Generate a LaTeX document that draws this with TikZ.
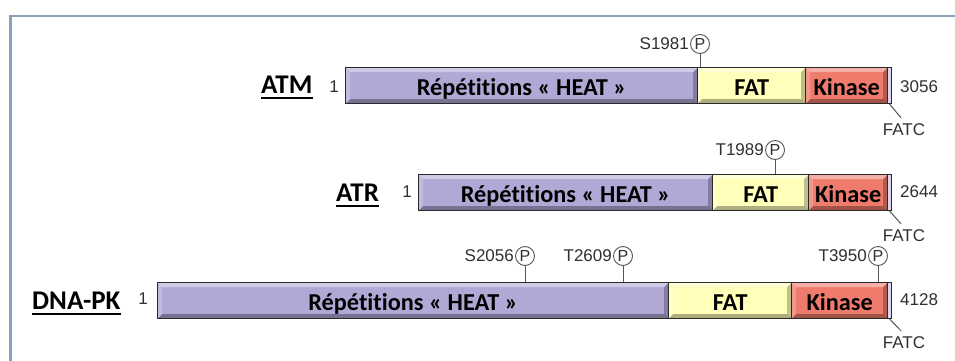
\documentclass[tikz,border=0pt]{standalone}
\usepackage{fontspec}
\setmainfont{Carlito}[Ligatures={NoCommon}]
\newfontfamily\arialf{Liberation Sans}
\usetikzlibrary{calc}
\definecolor{heatc}{HTML}{B2A8D6}
\definecolor{fatc}{HTML}{FFFFB9}
\definecolor{kinc}{HTML}{EE7B6B}
\definecolor{fatcc}{HTML}{DCD4F0}
\definecolor{segline}{HTML}{2A2A2A}
\definecolor{framec}{HTML}{8C9FBD}
\definecolor{stemc}{HTML}{555555}
\definecolor{smalltxt}{HTML}{303030}
\tikzset{
  bevel/.style={path picture={
    \fill[white,opacity=.40] (path picture bounding box.north west) -- (path picture bounding box.north east)
      -- ($(path picture bounding box.north east)+(-4.5pt,-4.5pt)$) -- ($(path picture bounding box.north west)+(4.5pt,-4.5pt)$) -- cycle;
    \fill[white,opacity=.22] (path picture bounding box.north west) -- ($(path picture bounding box.north west)+(4.5pt,-4.5pt)$)
      -- ($(path picture bounding box.south west)+(4.5pt,4.5pt)$) -- (path picture bounding box.south west) -- cycle;
    \fill[black,opacity=.32] (path picture bounding box.south west) -- ($(path picture bounding box.south west)+(4.5pt,4.5pt)$)
      -- ($(path picture bounding box.south east)+(-4.5pt,4.5pt)$) -- (path picture bounding box.south east) -- cycle;
    \fill[black,opacity=.25] (path picture bounding box.north east) -- ($(path picture bounding box.north east)+(-4.5pt,-4.5pt)$)
      -- ($(path picture bounding box.south east)+(-4.5pt,4.5pt)$) -- (path picture bounding box.south east) -- cycle;
  }},
  seg/.style={draw=segline, line width=1.4pt, anchor=north west, minimum height=36pt, inner sep=0pt,
    text height=20pt, text depth=0pt,
    font=\bfseries\fontsize{24.3}{24.3}\selectfont, bevel},
  heatseg/.style={seg, fill=heatc},
  fatseg/.style={seg, fill=fatc},
  kinseg/.style={seg, fill=kinc},
  fatcseg/.style={draw=segline, line width=1pt, anchor=north west, minimum height=36pt, minimum width=4pt, inner sep=0pt, fill=fatcc},
  protlbl/.style={inner sep=0pt, font=\bfseries\fontsize{27}{27}\selectfont},
  small/.style={inner sep=0pt, text=smalltxt, font=\arialf\fontsize{17}{17}\selectfont},
  phos/.style={circle, draw=stemc, line width=0.9pt, minimum size=19pt, inner sep=0pt, text=smalltxt, font=\arialf\fontsize{16}{16}\selectfont},
  stem/.style={draw=stemc, line width=1pt},
  uline/.style={line width=2.2pt},
}
\begin{document}
\begin{tikzpicture}[x=1pt,y=-1pt]
\useasboundingbox (0,0) rectangle (955,361);
\fill[white] (0,0) rectangle (955,361);
\draw[framec, line width=2.3pt] (10.5,361) -- (10.5,16) -- (955,16);

% ---------- ATM ----------
\node[protlbl, anchor=base west] (atml) at (261,93.5) {ATM};
\draw[uline] ($(atml.base west)+(0,4.2)$) -- ($(atml.base east)+(0,4.2)$);
\node[small] (atm1) at (334,87) {1};
\node[heatseg, minimum width=352pt] (atmheat) at (345,67) {Répétitions « HEAT »};
\node[fatseg, minimum width=108pt] (atmfat) at (697,67) {FAT};
\node[kinseg, minimum width=82pt] (atmkin) at (805,67) {Kinase};
\node[fatcseg] (atmfatc) at (887,67) {};
\node[small, anchor=west] (atmlen) at (900,87) {3056};
\node[small] (atmfatcl) at (904,130) {FATC};
\draw[stem] (atmfatc.south) -- ($(atmfatcl.north)+(-3,-6)$);
\node[phos] (atmp1) at (700,44) {P};
\node[small, anchor=east, inner sep=1pt] (atmp1l) at (atmp1.west) {S1981};
\draw[stem] (atmp1.south) -- (atmp1 |- atmfat.north);

% ---------- ATR ----------
\node[protlbl, anchor=base west] (atrl) at (336,201.5) {ATR};
\draw[uline] ($(atrl.base west)+(0,4.2)$) -- ($(atrl.base east)+(0,4.2)$);
\node[small] (atr1) at (407,192) {1};
\node[heatseg, minimum width=294pt] (atrheat) at (418,174) {Répétitions « HEAT »};
\node[fatseg, minimum width=96pt] (atrfat) at (712,174) {FAT};
\node[kinseg, minimum width=79pt] (atrkin) at (808,174) {Kinase};
\node[fatcseg] (atrfatc) at (887,174) {};
\node[small, anchor=west] (atrlen) at (900,192) {2644};
\node[small] (atrfatcl) at (904,236) {FATC};
\draw[stem] (atrfatc.south) -- ($(atrfatcl.north)+(-3,-6)$);
\node[phos] (atrp1) at (775,150) {P};
\node[small, anchor=east, inner sep=1pt] (atrp1l) at (atrp1.west) {T1989};
\draw[stem] (atrp1.south) -- (atrp1 |- atrfat.north);

% ---------- DNA-PK ----------
\node[protlbl, anchor=base west] (dnal) at (32,309.5) {DNA-PK};
\draw[uline] ($(dnal.base west)+(0,4.2)$) -- ($(dnal.base east)+(0,4.2)$);
\node[small] (dna1) at (143,299) {1};
\node[heatseg, minimum width=511pt] (dnaheat) at (157,282) {Répétitions « HEAT »};
\node[fatseg, minimum width=123pt] (dnafat) at (668,282) {FAT};
\node[kinseg, minimum width=96pt] (dnakin) at (791,282) {Kinase};
\node[fatcseg] (dnafatc) at (887,282) {};
\node[small, anchor=west] (dnalen) at (900,300) {4128};
\node[small] (dnafatcl) at (904,343) {FATC};
\draw[stem] (dnafatc.south) -- ($(dnafatcl.north)+(-3,-6)$);
\node[phos] (dnap1) at (525,256) {P};
\node[small, anchor=east, inner sep=1pt] (dnap1l) at (dnap1.west) {S2056};
\draw[stem] (dnap1.south) -- (dnap1 |- dnaheat.north);
\node[phos] (dnap2) at (623,256) {P};
\node[small, anchor=east, inner sep=1pt] (dnap2l) at (dnap2.west) {T2609};
\draw[stem] (dnap2.south) -- (dnap2 |- dnaheat.north);
\node[phos] (dnap3) at (878,256) {P};
\node[small, anchor=east, inner sep=1pt] (dnap3l) at (dnap3.west) {T3950};
\draw[stem] (dnap3.south) -- (dnap3 |- dnakin.north);
\end{tikzpicture}
\end{document}
